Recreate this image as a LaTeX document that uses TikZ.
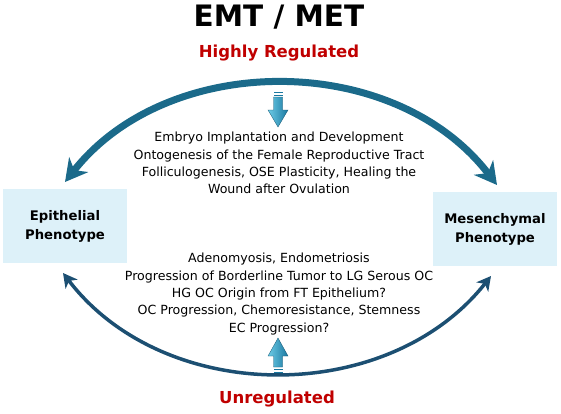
\documentclass[tikz,border=0pt]{standalone}
\usepackage{fontspec}
\setmainfont{DejaVu Sans}
\usetikzlibrary{arrows.meta,positioning}
\definecolor{boxblue}{HTML}{DDF1F9}
\definecolor{regred}{HTML}{C00000}
\definecolor{arcteal}{HTML}{1B6A8A}
\definecolor{arcnavy}{HTML}{1C4F72}
\definecolor{tiplight}{HTML}{6CCBE6}
\definecolor{tipdark}{HTML}{1A78A0}

\begin{document}
\begin{tikzpicture}[x=1pt,y=-1pt,
        pheno/.style={fill=boxblue, minimum width=124pt, minimum height=74pt, align=center,
          font=\fontsize{13.2}{19}\selectfont\bfseries},
        listtext/.style={align=center, font=\fontsize{12.6}{17.4}\selectfont},
        regtext/.style={text=regred, font=\fontsize{16.5}{18}\selectfont\bfseries},
        toparc/.style={draw=arcteal, line width=7pt,
          {Stealth[length=22pt,width=24pt,inset=7pt]}-{Stealth[length=22pt,width=24pt,inset=7pt]}},
        botarc/.style={draw=arcnavy, line width=3.5pt,
          {Stealth[length=14pt,width=15pt,inset=4pt]}-{Stealth[length=14pt,width=15pt,inset=4pt]}},
        smallarr/.style={left color=tiplight, right color=tipdark, draw=tipdark!70!black, line width=0.3pt}
      ]
        \useasboundingbox (0,0) rectangle (561,413);
        % headings
        \node (title) at (279,17) {\fontsize{29.5}{31}\selectfont\bfseries EMT / MET};
        \node[regtext] (hireg) at (279,53) {Highly Regulated};
        \node[regtext] (unreg) at (277,399) {Unregulated};
        % phenotype boxes
        \node[pheno] (epi) at (65,226) {Epithelial\\Phenotype};
        \node[pheno] (mes) at (495,229) {Mesenchymal\\Phenotype};
        % lists
        \node[listtext] (upper) at (279,163) {Embryo Implantation and Development\\
          Ontogenesis of the Female Reproductive Tract\\
          Folliculogenesis, OSE Plasticity, Healing the\\
          Wound after Ovulation};
        \node[listtext] (lower) at (279,294) {Adenomyosis, Endometriosis\\
          Progression of Borderline Tumor to LG Serous OC\\
          HG OC Origin from FT Epithelium?\\
          OC Progression, Chemoresistance, Stemness\\
          EC Progression?};
        % arc ends
        \coordinate (epiup) at (65,182);
        \coordinate (mesup) at (497,185);
        \coordinate (epilow) at (63,273);
        \coordinate (meslow) at (491,276);
        \draw[toparc] (epiup) .. controls (168,51) and (394,51) .. (mesup);
        \draw[botarc] (epilow) .. controls (165,406) and (388,406) .. (meslow);
        % small block arrows
        \shade[smallarr] (273.5,97) -- (282.5,97) -- (282.5,110) -- (288,110) -- (278,127)
          -- (268,110) -- (273.5,110) -- cycle;
        \fill[tipdark] (273.5,91.5) rectangle (282.5,93);
        \fill[tipdark] (273.5,94.5) rectangle (282.5,96);
        \shade[smallarr] (273.5,367) -- (282.5,367) -- (282.5,356) -- (288,356) -- (278,338)
          -- (268,356) -- (273.5,356) -- cycle;
        \fill[tipdark] (273.5,368.5) rectangle (282.5,370);
        \fill[tipdark] (273.5,371.5) rectangle (282.5,373);
      \end{tikzpicture}
\end{document}
